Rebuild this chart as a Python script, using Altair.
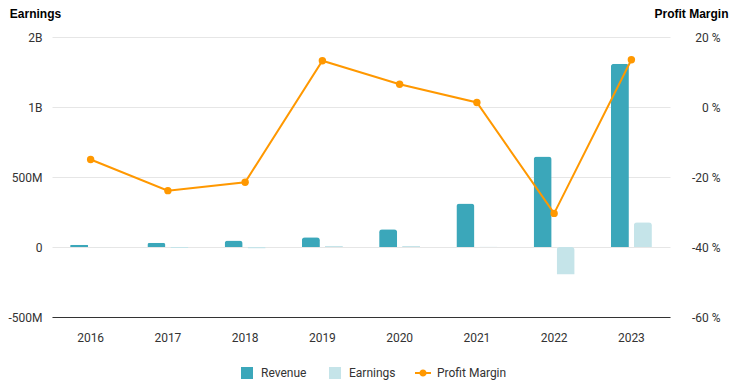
import altair as alt
import pandas as pd

# ---- data ----
years = ["2016", "2017", "2018", "2019", "2020", "2021", "2022", "2023"]
revenue = [16e6, 31e6, 47e6, 69e6, 126e6, 311e6, 647e6, 1309e6]
earnings = [-2.4e6, -7e6, -10e6, 9e6, 8e6, 4e6, -197e6, 176e6]
profit_margin = [-15.0, -23.9, -21.5, 13.2, 6.5, 1.3, -30.4, 13.5]

left_ticks = [-500000000, 0, 500000000, 1000000000, 1500000000]
left_tick_labels = ["-500M", "0", "500M", "1B", "2B"]
right_ticks = [-60, -40, -20, 0, 20]

series_names = ["Revenue", "Earnings"]
bar_colors = ["#3ba7ba", "#c5e4e9"]
line_color = "#ff9800"
line_label = "Profit Margin"

FONT = "Roboto"
TITLE_FONT = "Liberation Sans"
TXT = "#333333"

bars_df = pd.DataFrame({
    "year": years * 2,
    "series": [series_names[0]] * len(years) + [series_names[1]] * len(years),
    "value": revenue + earnings,
})
line_df = pd.DataFrame({"year": years, "margin": profit_margin,
                        "label": [line_label] * len(years)})

left_expr = "".join(
    f"datum.value == {v} ? '{l}' : " for v, l in zip(left_ticks, left_tick_labels)
) + "''"

x_enc = alt.X(
    "year:O", sort=years, title=None,
    scale=alt.Scale(paddingInner=0.469, paddingOuter=0.2345),
    axis=alt.Axis(labelAngle=0, ticks=False, labelPadding=15, domainColor=TXT,
                  domainWidth=1, grid=False, labelFont=FONT, labelFontSize=12,
                  labelColor=TXT),
)

bars = alt.Chart(bars_df).mark_bar(cornerRadiusEnd=3).encode(
    x=x_enc,
    xOffset=alt.XOffset("series:N", sort=series_names,
                        scale=alt.Scale(paddingInner=0.217, paddingOuter=0)),
    y=alt.Y(
        "value:Q",
        scale=alt.Scale(domain=[-500000000, 1500000000], nice=False),
        axis=alt.Axis(values=left_ticks, labelExpr=left_expr, title="Earnings",
                      titleAngle=0, titleAlign="left", titleBaseline="alphabetic",
                      titleX=-42.7, titleY=-19.5, titleFont=TITLE_FONT,
                      titleFontSize=12, titleFontWeight="bold", titleColor="#000000",
                      ticks=False, domain=False, labelPadding=10, grid=True,
                      gridColor="#e6e6e6", gridWidth=1, labelFont=FONT,
                      labelFontSize=12, labelColor=TXT),
    ),
    color=alt.Color(
        "series:N", sort=series_names,
        scale=alt.Scale(domain=series_names, range=bar_colors),
        legend=alt.Legend(title=None, orient="none", legendX=189, legendY=330,
                          direction="horizontal", symbolType="square",
                          symbolSize=144, symbolStrokeWidth=0, symbolOpacity=1,
                          labelOffset=8, columnPadding=22, padding=0,
                          labelFont=FONT, labelFontSize=12, labelColor=TXT),
    ),
)

y_right = alt.Y(
    "margin:Q",
    scale=alt.Scale(domain=[-60, 20], nice=False),
    axis=alt.Axis(orient="right", values=right_ticks, labelExpr="datum.value + ' %'",
                  title="Profit Margin", titleAngle=0, titleAlign="right",
                  titleBaseline="alphabetic", titleX=58, titleY=-19.5,
                  titleFont=TITLE_FONT, titleFontSize=12, titleFontWeight="bold",
                  titleColor="#000000", grid=False, ticks=False, domain=False,
                  labelAlign="right", labelPadding=50, labelFont=FONT,
                  labelFontSize=12, labelColor=TXT),
)

legend_path = ("M-1,-0.125H-0.42V0.125H-1Z M0.42,-0.125H1V0.125H0.42Z "
               "M0.45,0A0.45,0.45 0 1,1 -0.45,0A0.45,0.45 0 1,1 0.45,0Z")

line = alt.Chart(line_df).mark_line(color=line_color, strokeWidth=2)
pts = alt.Chart(line_df).mark_circle(size=55, opacity=1).encode(
    color=alt.Color(
        "label:N",
        scale=alt.Scale(domain=[line_label], range=[line_color]),
        legend=alt.Legend(title=None, orient="none", legendX=363, legendY=328,
                          direction="horizontal", symbolType=legend_path,
                          symbolSize=256, symbolStrokeWidth=0, symbolOpacity=1,
                          symbolFillColor=line_color, labelOffset=6, padding=0,
                          labelFont=FONT, labelFontSize=12, labelColor=TXT),
    )
)
right = alt.layer(line, pts).encode(x=x_enc, y=y_right)

chart = alt.layer(bars, right).resolve_scale(
    y="independent", color="independent"
).properties(
    width=618, height=280,
    padding={"left": 44, "top": 29, "right": 63, "bottom": 64},
    autosize=alt.AutoSizeParams(type="none"),
).configure_view(strokeOpacity=0)

chart.save("out.html", embed_options={"renderer": "svg", "actions": False})
